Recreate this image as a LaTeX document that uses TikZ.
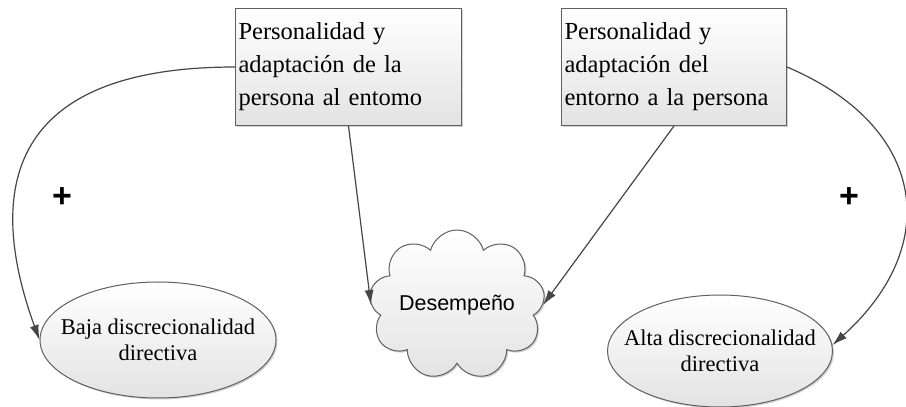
\documentclass[tikz,border=0pt]{standalone}
\usepackage{fontspec}
\setmainfont{Liberation Serif}
\setsansfont{Liberation Sans}
\usetikzlibrary{arrows.meta,shapes.geometric,shapes.symbols,shadows}

\begin{document}
\begin{tikzpicture}[x=1pt,y=1pt]
\path[use as bounding box, fill=white] (0,0) rectangle (906,407);
\begin{scope}[every node/.style={draw=gray!75!black, line width=1pt, top color=white, bottom color=gray!22, drop shadow={shadow xshift=1.5pt, shadow yshift=-1.5pt, opacity=0.35}}]
    \node[rectangle, anchor=north west, text width=220pt, inner sep=3pt, minimum height=117pt, align=left, font=\fontsize{24.5}{33}\selectfont] (box1) at (235,399) {Personalidad y\\adaptación de la\\persona al entomo};
    \node[rectangle, anchor=north west, text width=219pt, inner sep=3pt, minimum height=117pt, align=left, font=\fontsize{24.5}{33}\selectfont] (box2) at (561,399) {Personalidad y\\adaptación del\\entorno a la persona};
    \node[ellipse, inner xsep=-30pt, inner ysep=0pt, minimum width=236pt, minimum height=116pt, align=center, font=\fontsize{22.5}{26}\selectfont] (baja) at (158,67) {Baja discrecionalidad\\directiva};
    \node[ellipse, inner xsep=-30pt, inner ysep=0pt, minimum width=225pt, minimum height=112pt, align=center, font=\fontsize{22.5}{26}\selectfont] (alta) at (720,56) {Alta discrecionalidad\\directiva};
    \node[cloud, cloud puffs=9, cloud ignores aspect, inner xsep=-30pt, inner ysep=-5pt, minimum width=176pt, minimum height=150pt, font=\sffamily\fontsize{21.5}{24}\selectfont] (desemp) at (457,102) {Desempeño};
\end{scope}
\node[font=\sffamily\bfseries\fontsize{34}{34}\selectfont] (masL) at (62,209) {+};
\node[font=\sffamily\bfseries\fontsize{34}{34}\selectfont] (masR) at (849,209) {+};
\begin{scope}[every edge/.style={draw=gray!55!black, line width=1.2pt, -{Latex[length=15pt,width=9pt]}}]
    \path (box1.west) edge[out=180, in=110, out distance=250pt, in distance=133pt] (baja.west);
    \path (box2.east) edge[out=-23, in=42, out distance=152pt, in distance=149pt] (alta.3);
    \path (box1.south) edge (desemp.west);
    \path (box2.south) edge (desemp.east);
\end{scope}
\end{tikzpicture}
\end{document}
